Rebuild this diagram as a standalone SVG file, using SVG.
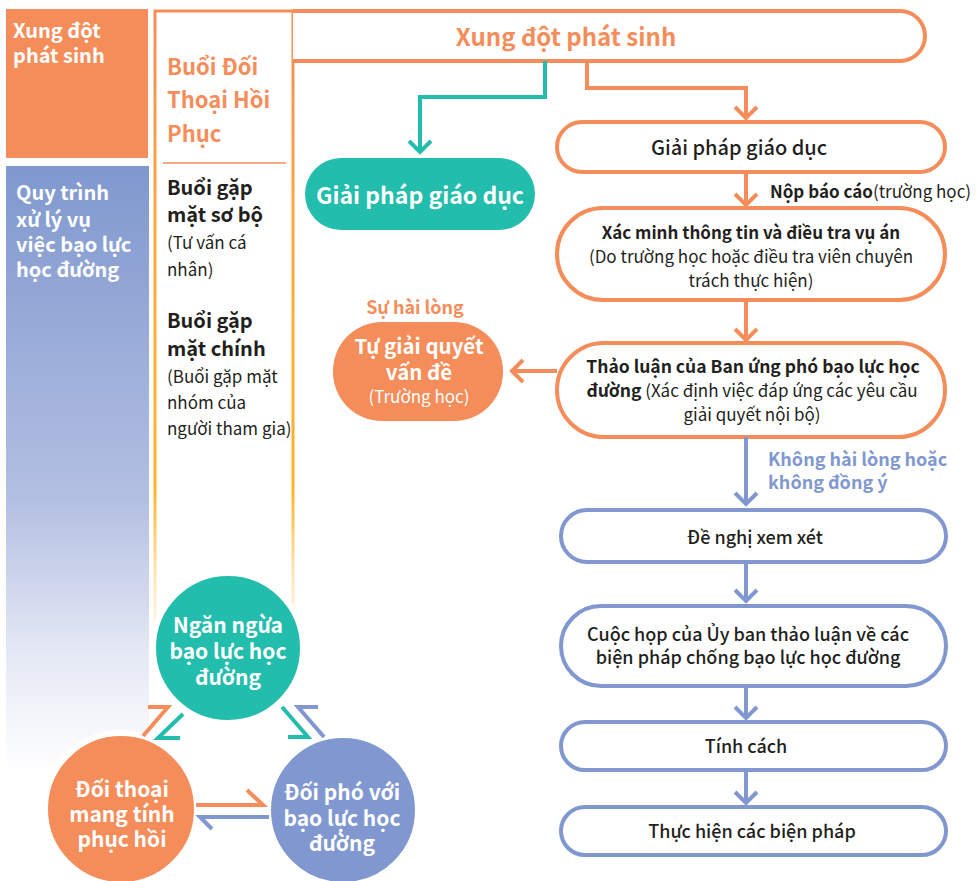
<svg xmlns="http://www.w3.org/2000/svg" width="977" height="881" viewBox="0 0 977 881">
<style>
text{font-family:"Noto Sans CJK KR","Noto Sans",sans-serif}
.w{fill:#fff;font-weight:700}
.d{fill:#231f20}
.b{font-weight:700}
.m{font-weight:500}
.r{font-weight:400}
.c{text-anchor:middle}
.ob{fill:#fff;stroke:#f58d5a;stroke-width:4}
.bb{fill:#fff;stroke:#8098cf;stroke-width:4}
.lo{fill:none;stroke:#f58d5a;stroke-width:4}
.lt{fill:none;stroke:#22bdac;stroke-width:4}
.lb{fill:none;stroke:#8098cf;stroke-width:4}
</style>
<defs>
<linearGradient id="gBlue" x1="0" y1="166" x2="0" y2="770" gradientUnits="userSpaceOnUse">
<stop offset="0" stop-color="#7f98ce"/>
<stop offset="0.55" stop-color="#b3bfe2"/>
<stop offset="0.8" stop-color="#e4e8f5"/>
<stop offset="1" stop-color="#ffffff"/>
</linearGradient>
<linearGradient id="gPanel" x1="0" y1="10" x2="0" y2="650" gradientUnits="userSpaceOnUse">
<stop offset="0" stop-color="#f58d5a"/>
<stop offset="0.35" stop-color="#fbaa3c"/>
<stop offset="0.75" stop-color="#fdb42c"/>
<stop offset="0.88" stop-color="#fdb42c" stop-opacity="0.35"/>
<stop offset="1" stop-color="#fdb42c" stop-opacity="0"/>
</linearGradient>
<marker id="aO" viewBox="-15 -15 30 30" markerWidth="30" markerHeight="30" markerUnits="userSpaceOnUse" refX="0" refY="0" orient="auto" overflow="visible"><path d="M-11,-11 L0,0 L-11,11" fill="none" stroke="#f58d5a" stroke-width="4"/></marker>
<marker id="aT" viewBox="-15 -15 30 30" markerWidth="30" markerHeight="30" markerUnits="userSpaceOnUse" refX="0" refY="0" orient="auto" overflow="visible"><path d="M-11,-11 L0,0 L-11,11" fill="none" stroke="#22bdac" stroke-width="4"/></marker>
<marker id="aB" viewBox="-15 -15 30 30" markerWidth="30" markerHeight="30" markerUnits="userSpaceOnUse" refX="0" refY="0" orient="auto" overflow="visible"><path d="M-11,-11 L0,0 L-11,11" fill="none" stroke="#8098cf" stroke-width="4"/></marker>
</defs>
<rect width="977" height="881" fill="#fff"/>

<g id="side-conflict">
<rect x="6" y="9" width="142" height="149" fill="#f58d5a"/>
<text class="w" x="13" y="38" font-size="20">Xung đột</text>
<text class="w" x="13" y="63" font-size="20">phát sinh</text>
</g>
<g id="side-process">
<rect x="6" y="166" width="143" height="604" fill="url(#gBlue)"/>
<text class="w" x="16" y="200" font-size="20">Quy trình</text>
<text class="w" x="16" y="227" font-size="20">xử lý vụ</text>
<text class="w" x="16" y="252" font-size="20">việc bạo lực</text>
<text class="w" x="16" y="277" font-size="20">học đường</text>
</g>
<g id="panel-dialogue">
<path d="M155,660 L155,11 L293,11 L293,660" fill="#fff" stroke="url(#gPanel)" stroke-width="3"/>
<line x1="163" y1="163" x2="286" y2="163" stroke="#f58d5a" stroke-width="1.5"/>
<text x="167" y="75" font-size="22" class="b" fill="#f58d5a">Buổi Đối</text>
<text x="167" y="108" font-size="22" class="b" fill="#f58d5a">Thoại Hồi</text>
<text x="167" y="142" font-size="22" class="b" fill="#f58d5a">Phục</text>
<text class="d b" x="167" y="195" font-size="20">Buổi gặp</text>
<text class="d b" x="167" y="222" font-size="20">mặt sơ bộ</text>
<text class="d r" x="167" y="249" font-size="17">(Tư vấn cá</text>
<text class="d r" x="167" y="276" font-size="17">nhân)</text>
<text class="d b" x="167" y="328" font-size="20">Buổi gặp</text>
<text class="d b" x="167" y="356" font-size="20">mặt chính</text>
<text class="d r" x="167" y="383" font-size="17">(Buổi gặp mặt</text>
<text class="d r" x="167" y="409" font-size="17">nhóm của</text>
<text class="d r" x="167" y="435" font-size="17">người tham gia)</text>
</g>

<g id="n-conflict">
<path class="ob" d="M293,11 L900,11 A25,25 0 0 1 900,61 L293,61"/>
<text x="566" y="46" font-size="24" class="b c" fill="#f58d5a">Xung đột phát sinh</text>
</g>
<g id="n-edu-teal">
<rect x="305" y="158" width="230" height="72" rx="36" fill="#22bdac"/>
<text class="w c" x="420" y="204" font-size="23">Giải pháp giáo dục</text>
</g>
<g id="n-edu">
<rect class="ob" x="557" y="122" width="388" height="50" rx="25"/>
<text class="d m c" x="739" y="155" font-size="20">Giải pháp giáo dục</text>
</g>
<g id="n-verify">
<rect class="ob" x="557" y="208" width="388" height="92" rx="46"/>
<text class="d b c" x="751" y="239" font-size="17">Xác minh thông tin và điều tra vụ án</text>
<text class="d r c" x="751" y="263" font-size="17">(Do trường học hoặc điều tra viên chuyên</text>
<text class="d r c" x="751" y="287" font-size="17">trách thực hiện)</text>
</g>
<g id="n-discuss">
<rect class="ob" x="557" y="343" width="388" height="94" rx="47"/>
<text class="d b c" x="753" y="373" font-size="17.5">Thảo luận của Ban ứng phó bạo lực học</text>
<text class="d c" x="752" y="397" font-size="17"><tspan class="b" font-size="17.5">đường</tspan><tspan class="r">  (Xác định việc đáp ứng các yêu cầu</tspan></text>
<text class="d r c" x="752" y="421" font-size="17">giải quyết nội bộ)</text>
</g>
<g id="n-self">
<rect x="333" y="322" width="170" height="99" rx="49" fill="#f58d5a"/>
<text class="w c" x="419" y="354" font-size="20.5">Tự giải quyết</text>
<text class="w c" x="419" y="380" font-size="20.5">vấn đề</text>
<text class="c r" x="419" y="403" font-size="17" fill="#fff">(Trường học)</text>
</g>
<g id="n-review">
<rect class="bb" x="561" y="510" width="385" height="52" rx="26"/>
<text class="d m c" x="755" y="544" font-size="18">Đề nghị xem xét</text>
</g>
<g id="n-meeting">
<rect class="bb" x="561" y="606" width="385" height="80" rx="40"/>
<text class="d m c" x="748" y="641" font-size="18">Cuộc họp của Ủy ban thảo luận về các</text>
<text class="d m c" x="748" y="664" font-size="18">biện pháp chống bạo lực học đường</text>
</g>
<g id="n-character">
<rect class="bb" x="561" y="722" width="385" height="48" rx="24"/>
<text class="d m c" x="746" y="753" font-size="18">Tính cách</text>
</g>
<g id="n-implement">
<rect class="bb" x="561" y="807" width="385" height="48" rx="24"/>
<text class="d m c" x="752" y="838" font-size="18">Thực hiện các biện pháp</text>
</g>

<g id="c-prevent">
<circle cx="228" cy="648" r="75" fill="#22bdac" stroke="#fff" stroke-width="6"/>
<text class="w c" x="228" y="633" font-size="21">Ngăn ngừa</text>
<text class="w c" x="228" y="659" font-size="21">bạo lực học</text>
<text class="w c" x="228" y="685" font-size="21">đường</text>
</g>
<g id="c-dialogue">
<circle cx="121" cy="809" r="76" fill="#f58d5a" stroke="#fff" stroke-width="6"/>
<text class="w c" x="122" y="797" font-size="21">Đối thoại</text>
<text class="w c" x="122" y="822" font-size="21">mang tính</text>
<text class="w c" x="122" y="847" font-size="21">phục hồi</text>
</g>
<g id="c-respond">
<circle cx="343" cy="810" r="75" fill="#8098cf" stroke="#fff" stroke-width="6"/>
<text class="w c" x="342" y="800" font-size="21">Đối phó với</text>
<text class="w c" x="342" y="826" font-size="21">bạo lực học</text>
<text class="w c" x="342" y="851" font-size="21">đường</text>
</g>

<g id="connectors">
<polyline class="lt" points="545,61 545,97 420,97 420,152" marker-end="url(#aT)"/>
<polyline class="lo" points="587,61 587,88 746,88 746,118" marker-end="url(#aO)"/>
<line class="lo" x1="746" y1="172" x2="746" y2="205" marker-end="url(#aO)"/>
<line class="lo" x1="746" y1="300" x2="746" y2="340" marker-end="url(#aO)"/>
<line class="lo" x1="557" y1="371" x2="512" y2="371" marker-end="url(#aO)"/>
<line class="lb" x1="746" y1="437" x2="746" y2="504" marker-end="url(#aB)"/>
<line class="lb" x1="746" y1="563" x2="746" y2="601" marker-end="url(#aB)"/>
<line class="lb" x1="746" y1="686" x2="746" y2="718" marker-end="url(#aB)"/>
<line class="lb" x1="746" y1="770" x2="746" y2="803" marker-end="url(#aB)"/>
<polyline class="lo" points="143,736 168,707 148,707"/>
<polyline class="lt" points="183,714 158,738 180,738"/>
<polyline class="lt" points="282,707 308,737 288,737"/>
<polyline class="lb" points="324,737 298,707 318,707"/>
<polyline class="lo" points="196,805 263,805 247,790"/>
<polyline class="lb" points="269,817 200,817 212,829"/>
<text x="770" y="198" font-size="17" class="d"><tspan class="b">Nộp báo cáo</tspan><tspan class="r">(trường học)</tspan></text>
<text x="415" y="314" font-size="18" class="b c" fill="#f58d5a">Sự hài lòng</text>
<text x="768" y="466" font-size="18" class="b" fill="#8098cf">Không hài lòng hoặc</text>
<text x="768" y="489" font-size="18" class="b" fill="#8098cf">không đồng ý</text>
</g>
</svg>
